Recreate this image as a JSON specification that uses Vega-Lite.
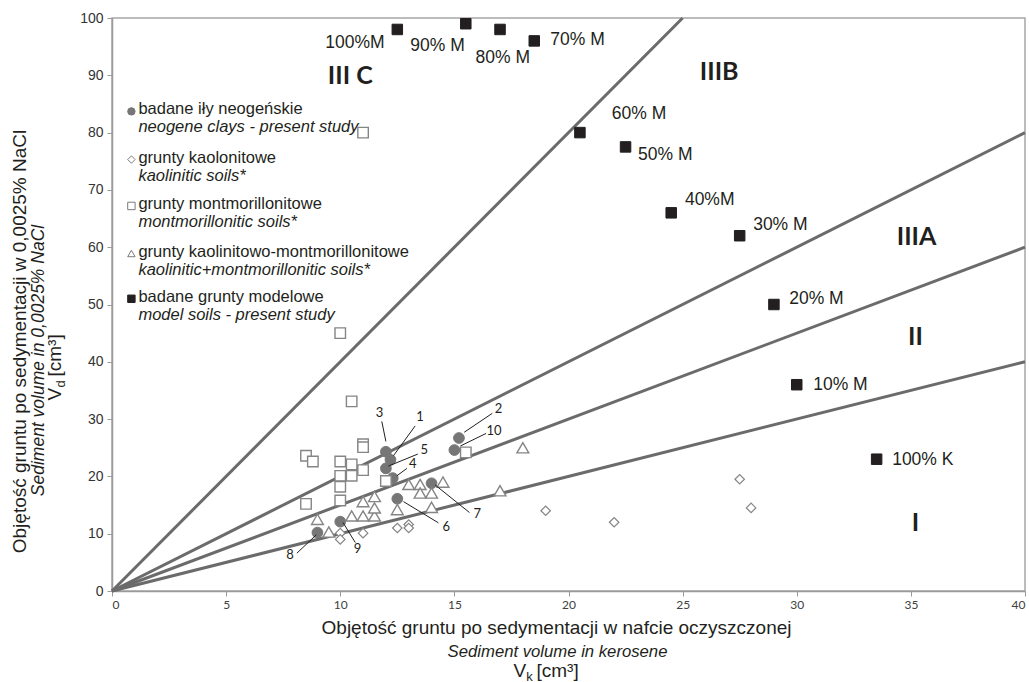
{
"$schema":"https://vega.github.io/schema/vega-lite/v6.json",
"width":913,"height":573,
"autosize":{"type":"none"},
"padding":{"left":112,"top":18,"right":4,"bottom":91},
"background":"#ffffff",
"config":{"view":{"stroke":"#a6a6a6","strokeWidth":1.5},"axis":{"grid":false}},
"resolve":{"axis":{"x":"independent","y":"independent"}},
"encoding":{
 "x":{"field":"x","type":"quantitative","scale":{"domain":[0,40],"nice":false,"zero":false},"axis":null},
 "y":{"field":"y","type":"quantitative","scale":{"domain":[0,100],"nice":false,"zero":false},"axis":null}
},
"datasets":{
 "bounds":[{"x":0,"y":0,"x2":25,"y2":100},{"x":0,"y":0,"x2":40,"y2":80},{"x":0,"y":0,"x2":40,"y2":60},{"x":0,"y":0,"x2":40,"y2":40}],
 "pts":[
  {"series":"neogene","x":12.2,"y":22.9},{"series":"neogene","x":15.2,"y":26.7},{"series":"neogene","x":12,"y":24.3},{"series":"neogene","x":12.3,"y":19.7},{"series":"neogene","x":12,"y":21.4},{"series":"neogene","x":12.5,"y":16.1},{"series":"neogene","x":14,"y":18.8},{"series":"neogene","x":9,"y":10.2},{"series":"neogene","x":10,"y":12.1},{"series":"neogene","x":15,"y":24.6},
  {"series":"montmorillonitic","x":8.5,"y":23.6},{"series":"montmorillonitic","x":8.8,"y":22.6},{"series":"montmorillonitic","x":8.5,"y":15.2},{"series":"montmorillonitic","x":10,"y":22.6},{"series":"montmorillonitic","x":10,"y":20.1},{"series":"montmorillonitic","x":10,"y":18.2},{"series":"montmorillonitic","x":10,"y":15.8},{"series":"montmorillonitic","x":10.5,"y":22.1},{"series":"montmorillonitic","x":10.5,"y":20.1},{"series":"montmorillonitic","x":10.5,"y":33.1},{"series":"montmorillonitic","x":11,"y":25.6},{"series":"montmorillonitic","x":11,"y":25.1},{"series":"montmorillonitic","x":11,"y":21.1},{"series":"montmorillonitic","x":12,"y":19.2},{"series":"montmorillonitic","x":15.5,"y":24.2},{"series":"montmorillonitic","x":10,"y":45},{"series":"montmorillonitic","x":11,"y":80},
  {"series":"kaol-mont","x":9,"y":12.5},{"series":"kaol-mont","x":9.5,"y":10.3},{"series":"kaol-mont","x":10.5,"y":13.1},{"series":"kaol-mont","x":11,"y":13.1},{"series":"kaol-mont","x":11.5,"y":13.1},{"series":"kaol-mont","x":11,"y":15.6},{"series":"kaol-mont","x":11.5,"y":16.5},{"series":"kaol-mont","x":11.5,"y":14.5},{"series":"kaol-mont","x":12.5,"y":14.2},{"series":"kaol-mont","x":13,"y":18.6},{"series":"kaol-mont","x":13.5,"y":18.6},{"series":"kaol-mont","x":13.5,"y":17.1},{"series":"kaol-mont","x":14,"y":17.1},{"series":"kaol-mont","x":14,"y":14.6},{"series":"kaol-mont","x":14.5,"y":19},{"series":"kaol-mont","x":17,"y":17.5},{"series":"kaol-mont","x":18,"y":25},
  {"series":"kaolinitic","x":10,"y":10.1},{"series":"kaolinitic","x":10,"y":9},{"series":"kaolinitic","x":11,"y":10.1},{"series":"kaolinitic","x":12.5,"y":11},{"series":"kaolinitic","x":13,"y":11.6},{"series":"kaolinitic","x":13,"y":11},{"series":"kaolinitic","x":19,"y":14},{"series":"kaolinitic","x":22,"y":12},{"series":"kaolinitic","x":27.5,"y":19.5},{"series":"kaolinitic","x":28,"y":14.5},
  {"series":"model","x":12.5,"y":98},{"series":"model","x":15.5,"y":99},{"series":"model","x":17,"y":98},{"series":"model","x":18.5,"y":96},{"series":"model","x":20.5,"y":80},{"series":"model","x":22.5,"y":77.5},{"series":"model","x":24.5,"y":66},{"series":"model","x":27.5,"y":62},{"series":"model","x":29,"y":50},{"series":"model","x":30,"y":36},{"series":"model","x":33.5,"y":23}
 ],
 "leaders":[
  {"x":11.82,"y":29.6,"x2":12.0,"y2":26.1},{"x":13.28,"y":28.8,"x2":12.33,"y2":23.6},{"x":13.4,"y":23.9,"x2":12.11,"y2":21.8},{"x":12.92,"y":21.4,"x2":12.48,"y2":20.1},{"x":16.66,"y":31.0,"x2":15.43,"y2":27.7},{"x":16.39,"y":27.5,"x2":15.26,"y2":25.3},{"x":15.66,"y":13.7,"x2":14.16,"y2":18.5},{"x":14.3,"y":11.9,"x2":12.77,"y2":15.6},{"x":10.66,"y":8.45,"x2":10.12,"y2":11.95},{"x":8.1,"y":6.6,"x2":8.95,"y2":9.8}
 ],
 "nums":[
  {"label":"3","x":11.72,"y":31.0},{"label":"1","x":13.5,"y":30.3},{"label":"5","x":13.68,"y":24.6},{"label":"4","x":13.18,"y":22.1},{"label":"2","x":16.93,"y":31.7},{"label":"10","x":16.74,"y":27.9},{"label":"7","x":16.0,"y":13.5},{"label":"6","x":14.64,"y":11.1},{"label":"9","x":10.76,"y":7.3},{"label":"8","x":7.8,"y":6.3}
 ],
 "mlabels":[
  {"label":"100%M","x":9.34,"y":95.7},{"label":"90% M","x":13.07,"y":95.2},{"label":"80% M","x":15.93,"y":93.1},{"label":"70% M","x":19.2,"y":96.2},{"label":"60% M","x":21.9,"y":83.3},{"label":"50% M","x":23.05,"y":76.1},{"label":"40%M","x":25.1,"y":68.3},{"label":"30% M","x":28.09,"y":63.8},{"label":"20% M","x":29.67,"y":51.0},{"label":"10% M","x":30.72,"y":36.0},{"label":"100% K","x":34.18,"y":22.9}
 ],
 "regions":[
  {"label":"III C","x":10.44,"y":89.8},{"label":"IIIB","x":26.6,"y":90.6},{"label":"IIIA","x":35.25,"y":61.8},{"label":"II","x":35.2,"y":44.4},{"label":"I","x":35.2,"y":11.9}
 ],
 "legend":[
  {"series":"neogene","pl":"badane iły neogeńskie","en":"neogene clays - present study","x":0.85,"y":83.7},
  {"series":"kaolinitic","pl":"grunty kaolonitowe","en":"kaolinitic  soils*","x":0.85,"y":75.3},
  {"series":"montmorillonitic","pl":"grunty montmorillonitowe","en":"montmorillonitic soils*","x":0.85,"y":67.2},
  {"series":"kaol-mont","pl":"grunty kaolinitowo-montmorillonitowe","en":"kaolinitic+montmorillonitic  soils*","x":0.85,"y":58.9},
  {"series":"model","pl":"badane grunty modelowe","en":"model soils - present study","x":0.85,"y":51.0}
 ]
},
"layer":[
 {"data":{"name":"bounds"},"mark":{"type":"rule","stroke":"#6b6b6b","strokeWidth":3},
  "encoding":{
   "x":{"field":"x","type":"quantitative","scale":{"domain":[0,40],"nice":false,"zero":false},
    "axis":{"orient":"bottom","values":[0,5,10,15,20,25,30,35,40],"domainColor":"#9a9a9a","domainWidth":1.5,"tickColor":"#9a9a9a","tickSize":5,"tickWidth":1,"labelFont":"Lato","labelFontSize":12,"labelColor":"#404040","labelPadding":3,"labelFlush":true,"labelOverlap":false,
     "title":"Objętość  gruntu po sedymentacji w nafcie oczyszczonej","titleFont":"Liberation Sans","titleFontSize":19,"titleFontWeight":"normal","titleColor":"#231f20","titleX":444,"titleY":36,"titleAlign":"center","titleBaseline":"middle","titleAngle":0}},
   "y":{"field":"y","type":"quantitative","scale":{"domain":[0,100],"nice":false,"zero":false},
    "axis":{"orient":"left","values":[0,10,20,30,40,50,60,70,80,90,100],"domainColor":"#9a9a9a","domainWidth":1.5,"tickColor":"#9a9a9a","tickSize":5,"tickWidth":1,"labelFont":"Liberation Sans","labelFontSize":14,"labelColor":"#333333","labelPadding":4,"labelFlush":false,"labelOverlap":false,
     "title":"Objętość gruntu po sedymentacji w 0,0025% NaCl","titleFont":"Liberation Sans","titleFontSize":19,"titleFontWeight":"normal","titleColor":"#231f20","titleX":-93,"titleY":323,"titleAlign":"center","titleBaseline":"middle","titleAngle":270}},
   "x2":{"field":"x2"},"y2":{"field":"y2"}}},
 {"data":{"name":"pts"},"transform":[{"filter":"datum.series === 'neogene'"}],
  "mark":{"type":"point","shape":"circle","filled":true,"fill":"#767676","stroke":"#767676","strokeWidth":1,"size":115,"opacity":1},
  "encoding":{
   "x":{"field":"x","type":"quantitative","scale":{"domain":[0,40],"nice":false,"zero":false},
    "axis":{"orient":"bottom","domain":false,"ticks":false,"labels":false,"title":"Sediment volume in kerosene","titleFont":"Liberation Sans","titleFontSize":16.7,"titleFontStyle":"italic","titleFontWeight":"normal","titleColor":"#231f20","titleX":445,"titleY":60,"titleAlign":"center","titleBaseline":"middle","titleAngle":0}},
   "y":{"field":"y","type":"quantitative","scale":{"domain":[0,100],"nice":false,"zero":false},
    "axis":{"orient":"left","domain":false,"ticks":false,"labels":false,"title":"Sediment volume in 0,0025% NaCl","titleFont":"Liberation Sans","titleFontSize":17.5,"titleFontStyle":"italic","titleFontWeight":"normal","titleColor":"#231f20","titleX":-74,"titleY":342,"titleAlign":"center","titleBaseline":"middle","titleAngle":270}}}},
 {"data":{"name":"pts"},"transform":[{"filter":"datum.series === 'montmorillonitic'"}],
  "mark":{"type":"point","shape":"square","filled":true,"fill":"#ffffff","stroke":"#858585","strokeWidth":1.4,"size":110,"opacity":1},
  "encoding":{
   "x":{"field":"x","type":"quantitative","scale":{"domain":[0,40],"nice":false,"zero":false},
    "axis":{"orient":"bottom","domain":false,"ticks":false,"labels":false,"title":"V","titleFont":"Liberation Sans","titleFontSize":19,"titleFontWeight":"normal","titleColor":"#231f20","titleX":401,"titleY":85,"titleAlign":"left","titleBaseline":"alphabetic","titleAngle":0}},
   "y":{"field":"y","type":"quantitative","scale":{"domain":[0,100],"nice":false,"zero":false},
    "axis":{"orient":"left","domain":false,"ticks":false,"labels":false,"title":"V","titleFont":"Liberation Sans","titleFontSize":19,"titleFontWeight":"normal","titleColor":"#231f20","titleX":-52,"titleY":382,"titleAlign":"left","titleBaseline":"alphabetic","titleAngle":270}}}},
 {"data":{"name":"pts"},"transform":[{"filter":"datum.series === 'kaol-mont'"}],
  "mark":{"type":"point","shape":"triangle-up","filled":true,"fill":"#ffffff","stroke":"#858585","strokeWidth":1.4,"size":140,"opacity":1},
  "encoding":{
   "x":{"field":"x","type":"quantitative","scale":{"domain":[0,40],"nice":false,"zero":false},
    "axis":{"orient":"bottom","domain":false,"ticks":false,"labels":false,"title":"k","titleFont":"Liberation Sans","titleFontSize":13,"titleFontWeight":"normal","titleColor":"#231f20","titleX":413.7,"titleY":89,"titleAlign":"left","titleBaseline":"alphabetic","titleAngle":0}},
   "y":{"field":"y","type":"quantitative","scale":{"domain":[0,100],"nice":false,"zero":false},
    "axis":{"orient":"left","domain":false,"ticks":false,"labels":false,"title":"d","titleFont":"Liberation Sans","titleFontSize":13,"titleFontWeight":"normal","titleColor":"#231f20","titleX":-48,"titleY":369,"titleAlign":"left","titleBaseline":"alphabetic","titleAngle":270}}}},
 {"data":{"name":"pts"},"transform":[{"filter":"datum.series === 'kaolinitic'"}],
  "mark":{"type":"point","shape":"diamond","filled":true,"fill":"#ffffff","stroke":"#858585","strokeWidth":1.2,"size":90,"opacity":1},
  "encoding":{
   "x":{"field":"x","type":"quantitative","scale":{"domain":[0,40],"nice":false,"zero":false},
    "axis":{"orient":"bottom","domain":false,"ticks":false,"labels":false,"title":"[cm³]","titleFont":"Liberation Sans","titleFontSize":19,"titleFontWeight":"normal","titleColor":"#231f20","titleX":424,"titleY":85,"titleAlign":"left","titleBaseline":"alphabetic","titleAngle":0}},
   "y":{"field":"y","type":"quantitative","scale":{"domain":[0,100],"nice":false,"zero":false},
    "axis":{"orient":"left","domain":false,"ticks":false,"labels":false,"title":"[cm³]","titleFont":"Liberation Sans","titleFontSize":19,"titleFontWeight":"normal","titleColor":"#231f20","titleX":-52,"titleY":358,"titleAlign":"left","titleBaseline":"alphabetic","titleAngle":270}}}},
 {"data":{"name":"pts"},"transform":[{"filter":"datum.series === 'model'"}],
  "mark":{"type":"point","shape":"square","filled":true,"fill":"#231f20","stroke":"#231f20","strokeWidth":1,"size":110,"opacity":1}},
 {"data":{"name":"leaders"},"mark":{"type":"rule","stroke":"#231f20","strokeWidth":1},
  "encoding":{"x2":{"field":"x2"},"y2":{"field":"y2"}}},
 {"data":{"name":"nums"},"mark":{"type":"text","font":"Lato","fontSize":13,"color":"#231f20","align":"center","baseline":"middle"},
  "encoding":{"text":{"field":"label"}}},
 {"data":{"name":"mlabels"},"mark":{"type":"text","font":"Liberation Sans","fontSize":17.5,"color":"#231f20","align":"left","baseline":"middle"},
  "encoding":{"text":{"field":"label"}}},
 {"data":{"name":"regions"},"mark":{"type":"text","font":"Lato","fontSize":25,"fontWeight":"bold","color":"#231f20","align":"center","baseline":"middle"},
  "encoding":{"text":{"field":"label"}}},
 {"data":{"name":"legend"},"mark":{"type":"point","filled":true,"strokeWidth":1,"size":55,"opacity":1},
  "encoding":{
   "shape":{"field":"series","type":"nominal","scale":{"domain":["neogene","kaolinitic","montmorillonitic","kaol-mont","model"],"range":["circle","diamond","square","triangle-up","square"]},"legend":null},
   "fill":{"field":"series","type":"nominal","scale":{"domain":["neogene","kaolinitic","montmorillonitic","kaol-mont","model"],"range":["#767676","#ffffff","#ffffff","#ffffff","#231f20"]},"legend":null},
   "stroke":{"field":"series","type":"nominal","scale":{"domain":["neogene","kaolinitic","montmorillonitic","kaol-mont","model"],"range":["#767676","#7a7a7a","#7a7a7a","#7a7a7a","#231f20"]},"legend":null}}},
 {"data":{"name":"legend"},"mark":{"type":"text","font":"Liberation Sans","fontSize":16.5,"color":"#231f20","align":"left","baseline":"middle","dx":7,"dy":-2},
  "encoding":{"text":{"field":"pl"}}},
 {"data":{"name":"legend"},"mark":{"type":"text","font":"Liberation Sans","fontSize":16.5,"fontStyle":"italic","color":"#231f20","align":"left","baseline":"middle","dx":7,"dy":16},
  "encoding":{"text":{"field":"en"}}}
]
}
